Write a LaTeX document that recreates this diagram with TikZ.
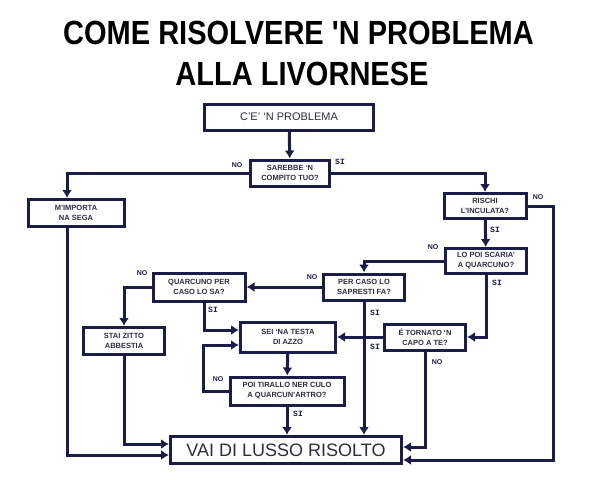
\documentclass[tikz,border=0pt]{standalone}
\usepackage{fontspec}
\setmainfont{Liberation Sans}
\newfontfamily\titlefont{Liberation Sans}[FakeStretch=0.866]
\newfontfamily\sifont{Liberation Mono}
\usetikzlibrary{arrows.meta}
\definecolor{navy}{RGB}{28,28,72}
\definecolor{boxtext}{RGB}{45,45,65}

\begin{document}
\begin{tikzpicture}[x=1pt, y=-1pt,
    box/.style={draw=navy, line width=3pt, fill=white, inner sep=0pt, align=center,
                text=boxtext, font=\fontsize{7.5}{10}\selectfont\bfseries},
    nolabel/.style={font=\fontsize{7}{8}\selectfont\bfseries, text=navy, inner sep=0pt},
    silabel/.style={font=\fontsize{8}{9}\selectfont\sifont\bfseries, text=navy, inner sep=0pt},
    link/.style={draw=navy, line width=3pt, -{Latex[length=8pt,width=10pt]}}]
                \useasboundingbox (0,0) rectangle (599,479);
                \node[anchor=base, font=\fontsize{33.5}{40}\selectfont\titlefont\bfseries] (title1) at (298.5,44) {COME RISOLVERE 'N PROBLEMA};
                \node[anchor=base, font=\fontsize{33.5}{40}\selectfont\titlefont\bfseries] (title2) at (302,85) {ALLA LIVORNESE};

                \node[box, minimum width=169, minimum height=26, font=\fontsize{11}{12}\selectfont] (prob) at (289,117) {C'E' `N PROBLEMA};
                \node[box, minimum width=79, minimum height=26] (sarebbe) at (290,173) {SAREBBE `N\\COMPITO TUO?};
                \node[box, minimum width=96, minimum height=27] (mimporta) at (76,213) {M'IMPORTA\\NA SEGA};
                \node[box, minimum width=82, minimum height=25] (rischi) at (485,206) {RISCHI\\L'INCULATA?};
                \node[box, minimum width=81, minimum height=25] (lopoi) at (486,261) {LO POI SCARIA'\\A QUARCUNO?};
                \node[box, minimum width=81, minimum height=26] (percaso) at (364,287) {PER CASO LO\\SAPRESTI FA?};
                \node[box, minimum width=92, minimum height=28] (quarcuno) at (199,287) {QUARCUNO PER\\CASO LO SA?};
                \node[box, minimum width=81, minimum height=27] (stai) at (124,341) {STAI ZITTO\\ABBESTIA};
                \node[box, minimum width=95, minimum height=30] (sei) at (288,337) {SEI `NA TESTA\\DI AZZO};
                \node[box, minimum width=81, minimum height=26] (tornato) at (425,337) {É TORNATO `N\\CAPO A TE?};
                \node[box, minimum width=114, minimum height=28] (poi) at (287,391) {POI TIRALLO NER CULO\\A QUARCUN'ARTRO?};
                \node[box, minimum width=231, minimum height=27, font=\fontsize{18}{20}\selectfont] (vai) at (286,450) {VAI DI LUSSO RISOLTO};

                \draw[link] (prob) -- (sarebbe);
                \draw[link] (sarebbe.west) -| ([xshift=-9pt]mimporta.north);
                \draw[link] (sarebbe.east) -| (rischi.north);
                \draw[link] ([xshift=-9pt]mimporta.south) |- ([yshift=-5pt]vai.west);
                \draw[link] (rischi.east) -- ++(26,0) |- ([yshift=-10pt]vai.east);
                \draw[link] (rischi) -- (lopoi);
                \draw[link] (lopoi.west) -| (percaso.north);
                \draw[link] (lopoi.south) |- (tornato.east);
                \draw[link] (percaso) -- (quarcuno);
                \draw[link] (percaso.south) -- (percaso.south |- vai.north);
                \draw[link] (tornato) -- (sei);
                \draw[link] (tornato.south) |- ([yshift=3pt]vai.east);
                \draw[link] (quarcuno.west) -| (stai.north);
                \draw[link] ([xshift=5pt]quarcuno.south) |- ([yshift=7pt]sei.west);
                \draw[link] (stai.south) |- ([yshift=6pt]vai.west);
                \draw[link] (sei) -- (poi);
                \draw[link] (poi.west) -- ++(-25,0) |- ([yshift=-8pt]sei.west);
                \draw[link] (poi.south) -- (poi.south |- vai.north);

                \node[nolabel] (no1) at (237,165) {NO};
                \node[silabel] (si1) at (340,162) {SI};
                \node[nolabel] (no2) at (538,197) {NO};
                \node[silabel] (si2) at (495,230) {SI};
                \node[nolabel] (no3) at (433,247) {NO};
                \node[silabel] (si3) at (497,283) {SI};
                \node[nolabel] (no4) at (312,277) {NO};
                \node[silabel] (si4) at (375,313) {SI};
                \node[silabel] (si5) at (375,347) {SI};
                \node[nolabel] (no5) at (437,362) {NO};
                \node[nolabel] (no6) at (142,273) {NO};
                \node[silabel] (si6) at (213,310) {SI};
                \node[nolabel] (no7) at (218,379) {NO};
                \node[silabel] (si7) at (298,414) {SI};
            \end{tikzpicture}
\end{document}
